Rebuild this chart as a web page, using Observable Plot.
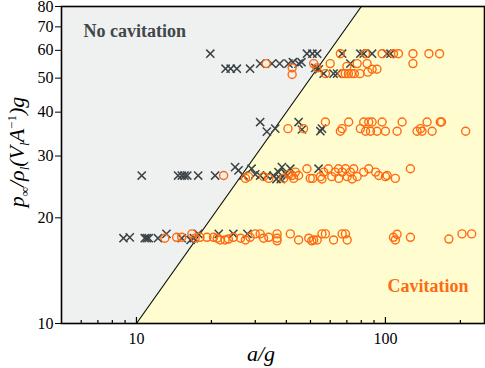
<!DOCTYPE html>
<html><head><meta charset="utf-8">
<script src="https://cdn.jsdelivr.net/npm/d3@7"></script>
<script src="https://cdn.jsdelivr.net/npm/@observablehq/plot@0.6"></script>
<style>body{margin:0;background:#fff}#chart{width:485px;height:368px}
#chart svg, #chart svg text{font-family:"Liberation Serif","Times New Roman",Times,serif !important;}</style>
</head><body><div id="chart"></div>
<script>
// ---- axes / domains ----
const xDomain = [5, 250];
const yDomain = [10, 80];
const xTicks = [10, 100];
const xMinorTicks = [6, 7, 8, 9, 20, 30, 40, 50, 60, 70, 80, 90, 200];
const yTicks = [10, 20, 30, 40, 50, 60, 70, 80];
// cavitation boundary (a/g = p-ratio)
const boundaryX = [10, 80];
const boundaryY = [10, 80];
const regionLabels = ["No cavitation", "Cavitation"];

// ---- data: [a/g, p_inf/(rho_l (V_l A^-1) g)] ----
const noCavRow58 = [[19.8,58.7],[48.4,58.7],[50.9,58.7],[53.2,58.7],[67,58.7],[79.3,58.7],[81.8,58.7],[88.4,58.7],[101.6,58.7],[104.8,58.7],
  [22.8,53.2],[23.9,53.2],[25.3,53.2],[28.6,53.2],[31.4,55],[35,55],[37.6,55],[40.8,55],[42.5,55.5],[44.8,55],[46,55.5],
  [52.3,53.5],[54,53],[56.5,51.5],[61.9,51.5],[64,51.5],[72.3,55]];
const cavRow58 = [[65.9,58.7],[83.2,58.7],[97,58.7],[107.7,58.7],[112.8,58.7],[129,58.7],[149.5,58.7],[165,58.7],[129,55],
  [33.2,55],[42.2,53.5],[42.2,51.2],[51.5,55],[53,53.5],[57.4,51.5],[60,55],[70,54],[67,51.5],[69,51.5],[71,51.5],[73,51.5],[75,51.5],[79,51.5],[77,55],[84.4,55],[88.4,53],[92.5,53],[85,52]];
const noCavRow36 = [[31.4,37.5],[33.4,35.2],[36.1,35.9],[44.8,37.5],[46.2,35.7],[54.8,35.3],[55.6,35.9]];
const cavRow36 = [[40.6,35.9],[46.9,35.9],[57.4,37.5],[65.9,35.3],[67,35.9],[71.2,37.5],[79.3,35.9],[81.8,37.5],[83.2,35.3],[85.7,37.5],[87.1,35.3],[88.4,37.5],
  [92.5,35.3],[97,37.5],[100,35.3],[111.4,35.3],[116.7,37.5],[134,35.3],[138.3,35.9],[140.3,35.3],[147,37.5],[154,35.3],[166,37.5],[168,37.5],[210,35.3]];
const noCavRow26 = [[10.5,26.4],[14.7,26.4],[15.2,26.4],[15.6,26.4],[16,26.4],[17.7,26.4],[20.7,26.4],[24.9,27.9],[25.7,27.3],[26.9,26.4],[29,27.6],[30,26.6],
  [31.4,26.4],[33.4,26.4],[35.5,26.4],[36.5,25.8],[37.2,27],[38,25.8],[38.4,27.9],[39.6,26.8],[40.3,26.4],[41.5,27.6],[53.9,27.6]];
const cavRow26 = [[22.4,26.4],[27.4,25.9],[28.2,26.2],[32.4,26.2],[34,25.9],[39,25.9],[40.9,26.6],[42.2,26.4],[42.8,25.9],[43.5,27.0],[44.8,26.4],[48.4,27.6],
  [49.9,25.9],[51,25.9],[54.8,26.2],[55.6,25.8],[56.5,27],[59,27.6],[60.9,26.2],[62.8,27],[64.8,27.6],[65,25.9],[67,27],[69.1,27.6],[70.2,26.2],[72.3,27],
  [73.5,25.8],[74.6,27.6],[77,26.2],[81.8,27],[85.7,27.6],[91.3,27],[94,26.4],[100,26.2],[101.6,26.4],[109.6,25.9],[126,27.6]];
const noCavRow17 = [[8.87,17.5],[9.4,17.6],[10.8,17.5],[11.0,17.5],[11.2,17.5],[12.2,17.5],[13.2,18.0],[15.2,17.5],[16.5,17.3],[17.0,17.5],[17.7,18.0],[21.4,18.0],[24.5,18.0],[27.9,18.0]];
const cavRow17 = [[13.0,17.5],[14.5,17.6],[15.2,17.6],[16.7,18.0],[17.2,17.5],[18.0,17.6],[19.2,17.6],[20.4,17.6],[21.1,17.5],[21.7,17.3],[22.7,17.3],[23.4,17.4],
  [24.5,17.6],[26.2,17.5],[27.4,17.3],[28.6,17.6],[30.0,18.0],[31.4,18.0],[32.4,17.5],[34.0,17.6],[36.7,18.0],[36.7,17.5],[36.7,17.2],[41.5,18.0],[44.8,17.3],
  [49.2,17.5],[50.6,17.2],[51.5,17.3],[53.2,17.3],[55.6,18.0],[57.4,18.0],[61.9,17.3],[67,18.0],[69.1,18.0],[70.2,17.3],[107.7,17.6],[109.6,17.3],[111.4,17.95],
  [126,17.6],[179.8,17.4],[203,18.0],[222,18.0]];

const noCav = [...noCavRow58, ...noCavRow36, ...noCavRow26, ...noCavRow17];
const cav = [...cavRow58, ...cavRow36, ...cavRow26, ...cavRow17];

const greyRegion = [
  {x: xDomain[0], y1: yDomain[0], y2: yDomain[1]},
  {x: boundaryX[0], y1: boundaryY[0], y2: yDomain[1]},
  {x: boundaryX[1], y1: boundaryY[1], y2: yDomain[1]}
];
const yellowRegion = [
  {x: boundaryX[0], y1: yDomain[0], y2: boundaryY[0]},
  {x: boundaryX[1], y1: yDomain[0], y2: boundaryY[1]},
  {x: xDomain[1], y1: yDomain[0], y2: yDomain[1]}
];
const boundary = boundaryX.map((x, i) => ({x, y: boundaryY[i]}));

const W = 485, H = 368, mT = 6, mB = 45, mL = 61, mR = 1;
const innerH = H - mT - mB;
const SERIF = "Liberation Serif";

const plot = Plot.plot({
  width: W, height: H,
  marginTop: mT, marginBottom: mB, marginLeft: mL, marginRight: mR,
  style: {fontFamily: SERIF, fontSize: "16px", background: "white", color: "black"},
  x: {type: "log", domain: xDomain},
  y: {type: "log", domain: yDomain},
  marks: [
    Plot.areaY(greyRegion, {x: "x", y1: "y1", y2: "y2", fill: "#eff0f0"}),
    Plot.areaY(yellowRegion, {x: "x", y1: "y1", y2: "y2", fill: "#fffdd0"}),
    Plot.line(boundary, {x: "x", y: "y", stroke: "#111", strokeWidth: 1.2}),
    Plot.dot(noCav, {x: d => d[0], y: d => d[1], symbol: "times", r: 3.8, stroke: "#3b4346", strokeWidth: 1.5}),
    Plot.dot(cav, {x: d => d[0], y: d => d[1], symbol: "circle", r: 4, stroke: "#ff6a10", strokeWidth: 1.4, fill: "none"}),
    Plot.text([regionLabels[0]], {frameAnchor: "top-left", textAnchor: "start", lineAnchor: "bottom", dx: 22, dy: 30,
      text: d => d, fill: "#3f4749", fontWeight: "bold", fontSize: 18, fontFamily: SERIF}),
    Plot.text([regionLabels[1]], {frameAnchor: "bottom-right", textAnchor: "end", lineAnchor: "bottom", dx: -16, dy: -32,
      text: d => d, fill: "#ff6a10", fontWeight: "bold", fontSize: 18, fontFamily: SERIF}),
    Plot.tickX(xMinorTicks, {x: d => d, stroke: "black", strokeWidth: 1.2, insetTop: innerH - 3}),
    Plot.tickX(xTicks, {x: d => d, stroke: "black", strokeWidth: 1.2, insetTop: innerH - 6}),
    Plot.axisX({ticks: xTicks, tickSize: 0, tickPadding: 9, tickFormat: d => d, label: null, fontSize: 16}),
    Plot.axisY({ticks: yTicks, tickSize: 6, tickPadding: 2, tickFormat: d => d, label: null, fontSize: 16}),
    Plot.frame({stroke: "black", strokeWidth: 1.6})
  ]
});
document.getElementById("chart").appendChild(plot);

const svg = d3.select(plot);
svg.attr("font-family", SERIF);
// y-axis label
const yl = svg.append("text")
  .attr("transform", "translate(24,152) rotate(-90)")
  .attr("text-anchor", "middle")
  .attr("font-style", "italic")
  .attr("font-size", 22)
  .attr("fill", "black");
yl.append("tspan").text("p");
yl.append("tspan").attr("font-size", 13).attr("dy", 5).attr("font-style", "normal").text("∞");
yl.append("tspan").attr("dy", -5).text("/");
yl.append("tspan").text("ρ");
yl.append("tspan").attr("font-size", 13).attr("dy", 5).text("l");
yl.append("tspan").attr("dy", -5).text("(V");
yl.append("tspan").attr("font-size", 13).attr("dy", 5).text("l");
yl.append("tspan").attr("dy", -5).text("A");
yl.append("tspan").attr("font-size", 13).attr("dy", -8).attr("font-style", "normal").text("−1");
yl.append("tspan").attr("dy", 8).text(")g");
// x-axis label
svg.append("text")
  .attr("x", 261).attr("y", 361)
  .attr("text-anchor", "middle")
  .attr("font-style", "italic")
  .attr("font-size", 22)
  .attr("fill", "black")
  .text("a/g");
svg.selectAll("text").style("font-family", SERIF);
</script>
</body></html>
